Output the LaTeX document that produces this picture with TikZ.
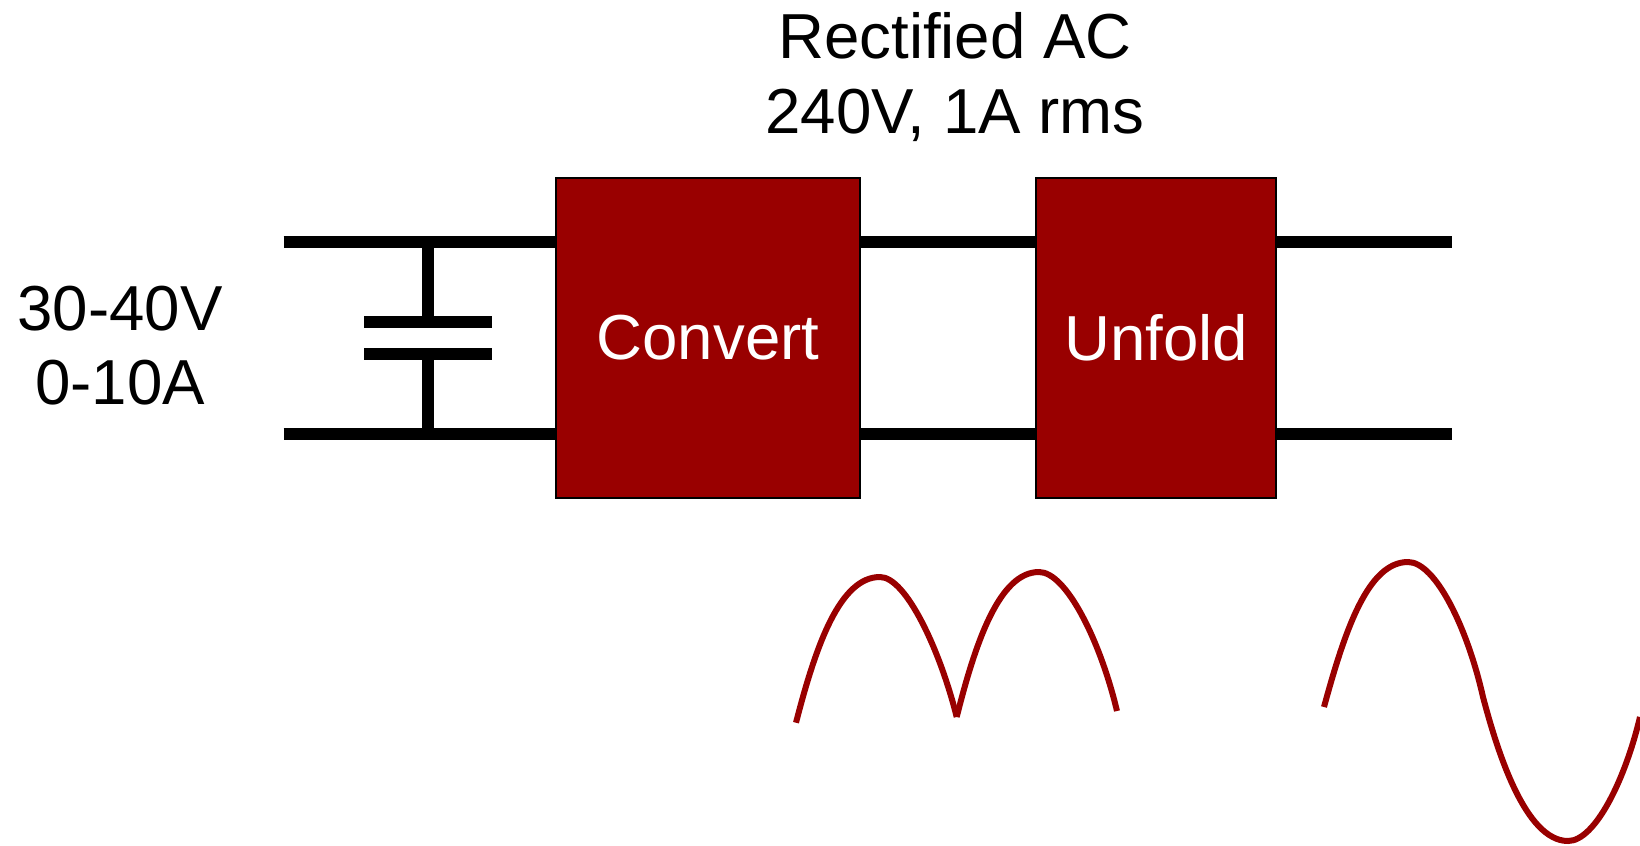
\documentclass[tikz,border=0pt]{standalone}
\usepackage{fontspec}
\setmainfont{Liberation Sans}
\usepackage{xcolor}
\definecolor{darkred}{HTML}{990000}

\begin{document}
\begin{tikzpicture}[x=0.5pt, y=-0.5pt,
    block/.style={draw=black, line width=1pt, fill=darkred, text=white, outer sep=0pt,
      minimum height=160pt, font=\fontsize{31.8}{37.7}\selectfont},
    wire/.style={line width=6pt, black},
    wave/.style={line width=3pt, darkred},
    lbl/.style={align=center, font=\fontsize{31.8}{37.2}\selectfont}]
  \useasboundingbox (0,0) rectangle (1640,846);
  %--- Blocks
  \node[block, minimum width=152pt] (Convert) at (708,338) {Convert};
  \node[block, minimum width=120pt] (Unfold)  at (1156,338) {Unfold};
  %--- Line ends
  \coordinate (TL) at (283.5,241.6);
  \coordinate (BL) at (283.5,434);
  \coordinate (TR) at (1452,241.6);
  \coordinate (BR) at (1452,434);
  %--- Capacitor
  \coordinate (CapT) at (428,241.6);
  \coordinate (CapB) at (428,434);
  \coordinate (PT)   at (428,321.5);
  \coordinate (PB)   at (428,353.5);
  \draw[wire] (CapT) -- (PT);
  \draw[wire] (CapB) -- (PB);
  \draw[wire] (364,321.5) -- (491.6,321.5);
  \draw[wire] (364,353.5) -- (491.6,353.5);
  %--- Wires
  \draw[wire] (TL) -- (TL -| Convert.west);
  \draw[wire] (BL) -- (BL -| Convert.west);
  \draw[wire] (TL -| Convert.east) -- (TL -| Unfold.west);
  \draw[wire] (BL -| Convert.east) -- (BL -| Unfold.west);
  \draw[wire] (TR -| Unfold.east) -- (TR);
  \draw[wire] (BR -| Unfold.east) -- (BR);
  %--- Labels
  \node[lbl] (Input)  at (120,345.5) {30-40V\\0-10A};
  \node[lbl] (Middle) at (955,77) {Rectified AC\\240V, 1A rms};
  %--- Waveforms
  \draw[wave] (796,722.7) .. controls (816,645) and (840,577) .. (880,577)
    .. controls (906,577) and (940,650) .. (956.7,717);
  \draw[wave] (956.7,717) .. controls (976,640) and (1000,572) .. (1039,572)
    .. controls (1066,572) and (1100,640) .. (1117,711);
  \draw[wave] (1324,707) .. controls (1345,630) and (1368,562) .. (1408,562)
    .. controls (1436,562) and (1468,630) .. (1483,697)
    .. controls (1497,750) and (1525,841) .. (1568,841)
    .. controls (1595,841) and (1625,780) .. (1640,717);
\end{tikzpicture}
\end{document}
